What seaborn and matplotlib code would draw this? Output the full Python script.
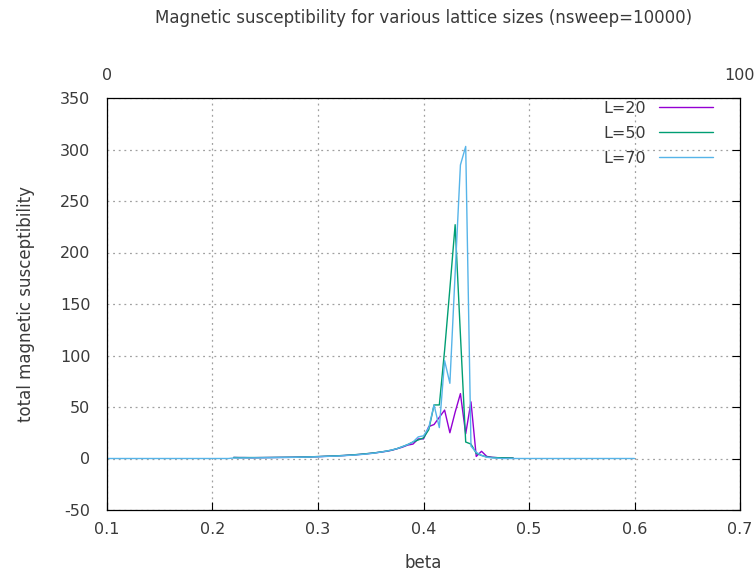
import numpy as np
import pandas as pd
import matplotlib
matplotlib.use("Agg")
import matplotlib.pyplot as plt
import seaborn as sns

# ---- data ----
beta_short = [round(0.22 + 0.005 * i, 3) for i in range(54)]          # 0.22 .. 0.485
beta_long = [round(0.10 + 0.005 * i, 3) for i in range(101)]          # 0.10 .. 0.60

chi_L20 = [1.0, 0.9, 0.9, 0.8, 0.8, 0.9, 0.9, 1.0, 1.0, 1.1,
           1.1, 1.2, 1.3, 1.4, 1.5, 1.7, 1.8, 2.0, 2.2, 2.4,
           2.7, 2.9, 3.3, 3.6, 4.0, 4.5, 5.0, 5.6, 6.3, 7.0,
           8.0, 9.5, 11.0, 13.0, 14.0, 19.0, 19.0, 31.0, 33.0, 40.0,
           47.0, 25.0, 45.0, 63.0, 24.0, 55.0, 2.0, 7.0, 2.0, 1.2,
           0.8, 0.6, 0.5, 0.4]

chi_L50 = [1.0, 0.9, 0.9, 0.9, 0.9, 0.9, 1.0, 1.0, 1.1, 1.1,
           1.2, 1.2, 1.3, 1.4, 1.5, 1.7, 1.9, 2.1, 2.3, 2.5,
           2.7, 3.0, 3.3, 3.7, 4.1, 4.6, 5.1, 5.7, 6.4, 7.2,
           8.2, 9.6, 11.5, 13.5, 16.0, 18.0, 20.0, 28.0, 52.0, 52.0,
           105.0, 165.0, 227.0, 120.0, 16.0, 14.0, 5.0, 3.0, 1.5, 1.0,
           0.8, 0.7, 0.6, 0.5]

chi_L70 = [0.0, 0.0, 0.0, 0.0, 0.0, 0.0, 0.0, 0.0, 0.0, 0.0,
           0.0, 0.0, 0.0, 0.0, 0.0, 0.0, 0.0, 0.0, 0.0, 0.0,
           0.0, 0.0, 0.0, 0.0, 0.5, 0.5, 0.6, 0.6, 0.7, 0.7,
           0.8, 0.8, 0.9, 1.0, 1.0, 1.1, 1.2, 1.3, 1.4, 1.6,
           1.7, 1.9, 2.1, 2.3, 2.5, 2.8, 3.1, 3.4, 3.8, 4.3,
           4.8, 5.5, 6.3, 7.2, 8.3, 9.6, 11.5, 13.5, 16.0, 21.0,
           22.0, 30.0, 52.0, 30.0, 95.0, 73.0, 180.0, 285.0, 303.0, 12.0,
           6.0, 3.0, 1.2, 0.6, 0.3, 0.0, 0.0, 0.0, 0.0, 0.0,
           0.0, 0.0, 0.0, 0.0, 0.0, 0.0, 0.0, 0.0, 0.0, 0.0,
           0.0, 0.0, 0.0, 0.0, 0.0, 0.0, 0.0, 0.0, 0.0, 0.0,
           0.0]

series_labels = ["L=20", "L=50", "L=70"]
series_colors = ["#9400D3", "#009E73", "#56B4E9"]

x_ticks = [0.1, 0.2, 0.3, 0.4, 0.5, 0.6, 0.7]
y_ticks = [-50, 0, 50, 100, 150, 200, 250, 300, 350]
x2_ticks = [0, 100]

df = pd.concat([
    pd.DataFrame({"beta": beta_short, "chi": chi_L20, "L": series_labels[0]}),
    pd.DataFrame({"beta": beta_short, "chi": chi_L50, "L": series_labels[1]}),
    pd.DataFrame({"beta": beta_long, "chi": chi_L70, "L": series_labels[2]}),
], ignore_index=True)

# ---- plot ----
sns.set_theme(style="white")
plt.rcParams["font.family"] = ["DejaVu Sans"]
plt.rcParams["axes.unicode_minus"] = False
TXT = "#3a3a3a"
FS = 11.5
FS_T = 12

fig = plt.figure(figsize=(7.54, 5.76), dpi=100)
ax = fig.add_axes([107 / 754, 1 - 510 / 576, (740 - 107) / 754, (510 - 98) / 576])

sns.lineplot(data=df, x="beta", y="chi", hue="L", palette=series_colors,
             hue_order=series_labels, linewidth=1.0, ax=ax, sort=False,
             estimator=None)

ax.set_xlim(0.1, 0.7)
ax.set_ylim(-50, 350)
ax.set_xticks(x_ticks)
ax.set_xticklabels([f"{t:g}" for t in x_ticks])
ax.set_yticks(y_ticks)
ax.grid(True, color="#a0a0a0", linestyle=(0, (1.5, 3)), linewidth=0.9)
ax.tick_params(direction="in", length=6, width=0.8, top=True, right=True,
               labelsize=FS, colors="black", labelcolor=TXT)
ax.tick_params(axis="y", pad=12)
ax.tick_params(axis="x", pad=9)
for s in ax.spines.values():
    s.set_color("black")
    s.set_linewidth(0.9)

ax.set_xlabel("beta", fontsize=FS_T, labelpad=12, color=TXT)
ax.set_ylabel("total magnetic susceptibility", fontsize=FS_T, labelpad=18, color=TXT)

ax2 = ax.twiny()
ax2.set_xlim(0, 100)
ax2.set_xticks(x2_ticks)
ax2.tick_params(direction="in", length=0, labelsize=FS, pad=11, labelcolor=TXT)
for s in ax2.spines.values():
    s.set_visible(False)

fig.text(423.5 / 754, 1 - 18 / 576,
         "Magnetic susceptibility for various lattice sizes (nsweep=10000)",
         fontsize=FS_T, ha="center", va="center", color=TXT)

leg = ax.legend(loc="upper right", frameon=False, markerfirst=False,
                fontsize=FS, handlelength=3.4, labelspacing=0.62,
                bbox_to_anchor=(0.975, 1.02), borderaxespad=0.3)
for t in leg.get_texts():
    t.set_color(TXT)

fig.savefig("out.png", dpi=100)
